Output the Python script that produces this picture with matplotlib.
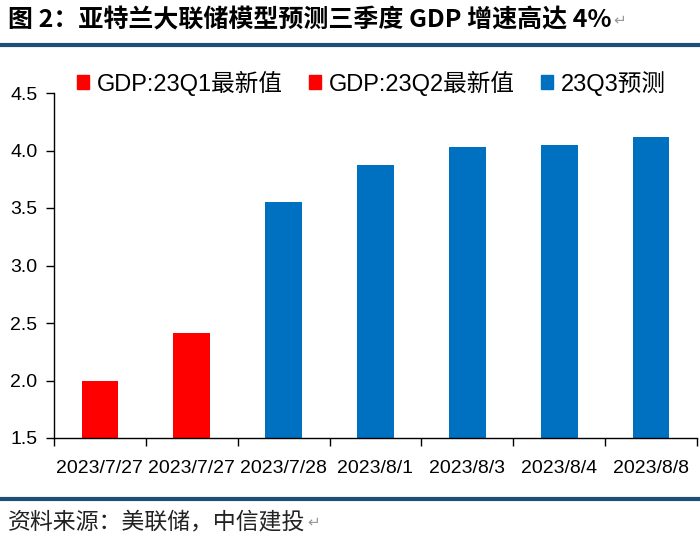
import matplotlib
matplotlib.use('Agg')
import matplotlib.pyplot as plt
from matplotlib.patches import Patch
from matplotlib.lines import Line2D

# 数据
dates = ['2023/7/27', '2023/7/27', '2023/7/28', '2023/8/1', '2023/8/3', '2023/8/4', '2023/8/8']
values = [2.0, 2.41, 3.55, 3.87, 4.03, 4.05, 4.12]
groups = ['q1', 'q2', 'q3', 'q3', 'q3', 'q3', 'q3']
legend_labels = ['GDP:23Q1最新值', 'GDP:23Q2最新值', '23Q3预测']
y_ticks = [1.5, 2.0, 2.5, 3.0, 3.5, 4.0, 4.5]

red = '#FF0000'
blue = '#0070C0'
line_color = '#1F4E79'
colors = {'q1': red, 'q2': red, 'q3': blue}

plt.rcParams['font.family'] = ['Liberation Sans', 'Noto Sans CJK SC', 'DejaVu Sans']

fig = plt.figure(figsize=(7, 5.47), dpi=100)
ax = fig.add_axes([54 / 700, 1 - 438 / 547, (697 - 54) / 700, (438 - 93) / 547])

x = list(range(len(dates)))
ax.bar(x, values, width=0.4, color=[colors[g] for g in groups])

ax.set_xlim(-0.5, len(dates) - 0.5)
ax.set_ylim(1.5, 4.5)
ax.set_yticks(y_ticks)
ax.set_yticklabels([f'{v:.1f}' for v in y_ticks], fontsize=14)
ax.set_xticks(x)
ax.set_xticklabels(dates, fontsize=14)
ax.tick_params(axis='x', length=0, pad=16)
ax.set_xticks([i - 0.5 for i in range(len(dates) + 1)], minor=True)
ax.tick_params(axis='x', which='minor', length=6, width=1, direction='out')
ax.tick_params(axis='y', length=6, width=1, direction='out', pad=6)
for s in ['top', 'right']:
    ax.spines[s].set_visible(False)
for s in ['left', 'bottom']:
    ax.spines[s].set_linewidth(1)

# 图例
handles = [Patch(color=red), Patch(color=red), Patch(color=blue)]
fig.legend(handles, legend_labels, loc='center left', bbox_to_anchor=(77 / 700, 1 - 83 / 547),
           ncol=3, frameon=False, fontsize=17, handlelength=0.5, handleheight=0.5,
           handletextpad=0.35, columnspacing=1.1, borderaxespad=0, borderpad=0)

# 标题与分隔线
fig.add_artist(Line2D([0, 1], [1 - 45 / 547] * 2, color=line_color, lw=3))
fig.add_artist(Line2D([0, 1], [1 - 499 / 547] * 2, color=line_color, lw=3))

title = fig.text(8 / 700, 1 - 20 / 547, '图 2：亚特兰大联储模型预测三季度 GDP 增速高达 4%',
                 fontsize=18, fontweight='bold', va='center', ha='left',
                 family=['Noto Sans CJK SC', 'DejaVu Sans'])
source = fig.text(8 / 700, 1 - 522 / 547, '资料来源：美联储，中信建投',
                  fontsize=16.5, va='center', ha='left', color='#222222',
                  family=['Noto Sans CJK SC', 'DejaVu Sans'])

fig.canvas.draw()
r = fig.canvas.get_renderer()
for t in [title, source]:
    bb = t.get_window_extent(r)
    fig.text(bb.x1 / 700 + 0.002, t.get_position()[1], '↵', fontsize=11, color='#999999',
             va='center', ha='left', family='DejaVu Sans')

fig.savefig('out.png', dpi=100)
